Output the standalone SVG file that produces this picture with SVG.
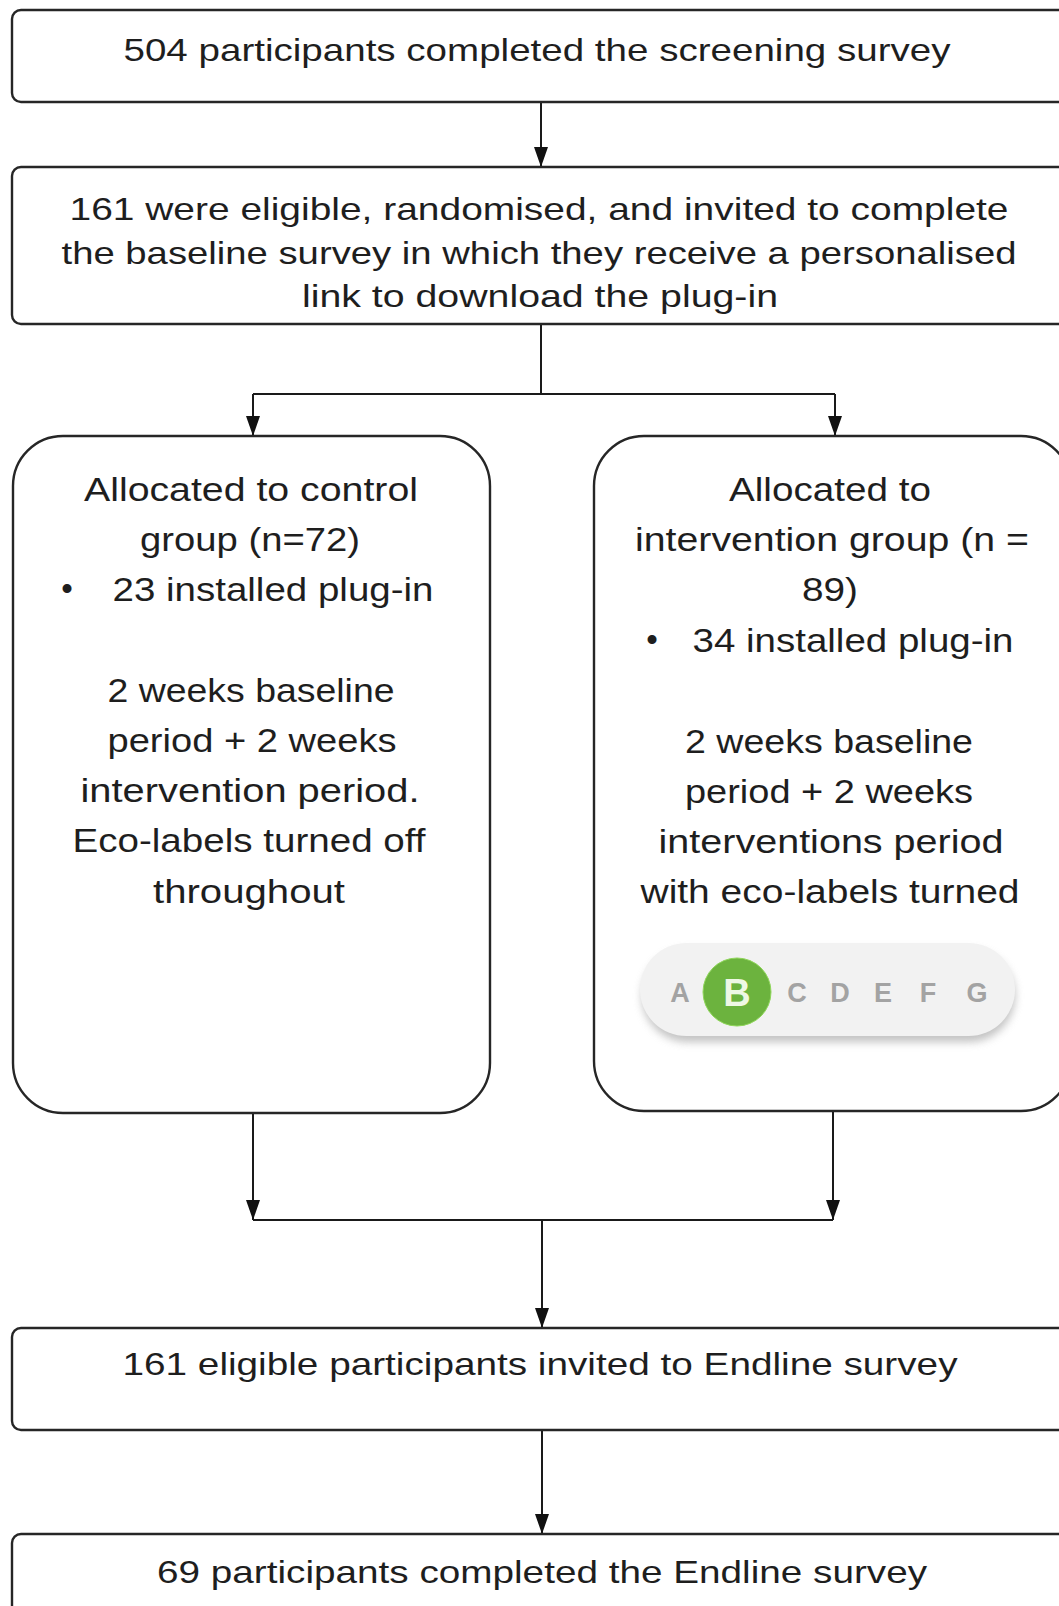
<svg xmlns="http://www.w3.org/2000/svg" width="1059" height="1606" viewBox="0 0 1059 1606">
<style>
.box{fill:#fff;stroke:#262626;stroke-width:2.4}
.con{fill:none;stroke:#1a1a1a;stroke-width:2}
.t{font-family:"Liberation Sans",Arial,sans-serif;font-size:32px;fill:#1e1e1e;text-anchor:middle}
.m{font-family:"Liberation Sans",Arial,sans-serif;font-size:33px;fill:#1e1e1e;text-anchor:middle}
.lt{font-family:"Liberation Sans",Arial,sans-serif;font-size:27px;font-weight:bold;fill:#a3a3a3;text-anchor:middle}
</style>
<defs>
<marker id="ah" viewBox="0 0 20 14" refX="20" refY="7" markerWidth="20" markerHeight="14" markerUnits="userSpaceOnUse" orient="auto">
<path d="M0,0 L20,7 L0,14 z" fill="#111"/>
</marker>
<filter id="sh" x="-20%" y="-40%" width="140%" height="200%">
<feGaussianBlur stdDeviation="4"/>
</filter>
</defs>

<g id="connectors">
<line class="con" x1="541" y1="103" x2="541" y2="167" marker-end="url(#ah)"/>
<line class="con" x1="541" y1="324" x2="541" y2="394"/>
<line class="con" x1="253" y1="394" x2="835" y2="394"/>
<line class="con" x1="253" y1="394" x2="253" y2="436" marker-end="url(#ah)"/>
<line class="con" x1="835" y1="394" x2="835" y2="436" marker-end="url(#ah)"/>
<line class="con" x1="253" y1="1114" x2="253" y2="1220" marker-end="url(#ah)"/>
<line class="con" x1="833" y1="1111" x2="833" y2="1220" marker-end="url(#ah)"/>
<line class="con" x1="253" y1="1220" x2="833" y2="1220"/>
<line class="con" x1="542" y1="1220" x2="542" y2="1328" marker-end="url(#ah)"/>
<line class="con" x1="542" y1="1430" x2="542" y2="1534" marker-end="url(#ah)"/>
</g>

<g id="screening">
<rect class="box" x="12" y="10" width="1055" height="92" rx="9"/>
<text class="t" x="537" y="61" textLength="827" lengthAdjust="spacingAndGlyphs">504 participants completed the screening survey</text>
</g>

<g id="baseline">
<rect class="box" x="12" y="167" width="1055" height="157" rx="9"/>
<text class="t" x="539" y="220" textLength="939" lengthAdjust="spacingAndGlyphs">161 were eligible, randomised, and invited to complete</text>
<text class="t" x="539" y="264" textLength="955" lengthAdjust="spacingAndGlyphs">the baseline survey in which they receive a personalised</text>
<text class="t" x="540" y="307" textLength="476" lengthAdjust="spacingAndGlyphs">link to download the plug-in</text>
</g>

<g id="control">
<rect class="box" x="13" y="436" width="477" height="677" rx="50"/>
<text class="m" x="251" y="501" textLength="334" lengthAdjust="spacingAndGlyphs">Allocated to control</text>
<text class="m" x="250" y="551" textLength="220" lengthAdjust="spacingAndGlyphs">group (n=72)</text>
<text class="m" x="67" y="600">•</text>
<text class="m" x="273" y="601" textLength="321" lengthAdjust="spacingAndGlyphs">23 installed plug-in</text>
<text class="m" x="251" y="702" textLength="287" lengthAdjust="spacingAndGlyphs">2 weeks baseline</text>
<text class="m" x="252" y="752" textLength="289" lengthAdjust="spacingAndGlyphs">period + 2 weeks</text>
<text class="m" x="250" y="802" textLength="339" lengthAdjust="spacingAndGlyphs">intervention period.</text>
<text class="m" x="249" y="852" textLength="353" lengthAdjust="spacingAndGlyphs">Eco-labels turned off</text>
<text class="m" x="249" y="903" textLength="192" lengthAdjust="spacingAndGlyphs">throughout</text>
</g>

<g id="intervention">
<rect class="box" x="594" y="436" width="477" height="675" rx="50"/>
<text class="m" x="830" y="501" textLength="202" lengthAdjust="spacingAndGlyphs">Allocated to</text>
<text class="m" x="832" y="551" textLength="394" lengthAdjust="spacingAndGlyphs">intervention group (n =</text>
<text class="m" x="830" y="601" textLength="56" lengthAdjust="spacingAndGlyphs">89)</text>
<text class="m" x="652" y="651">•</text>
<text class="m" x="853" y="652" textLength="321" lengthAdjust="spacingAndGlyphs">34 installed plug-in</text>
<text class="m" x="829" y="753" textLength="288" lengthAdjust="spacingAndGlyphs">2 weeks baseline</text>
<text class="m" x="829" y="803" textLength="288" lengthAdjust="spacingAndGlyphs">period + 2 weeks</text>
<text class="m" x="831" y="853" textLength="345" lengthAdjust="spacingAndGlyphs">interventions period</text>
<text class="m" x="830" y="903" textLength="379" lengthAdjust="spacingAndGlyphs">with eco-labels turned</text>
<g id="ecolabel">
<rect x="642" y="950" width="373" height="92" rx="46" fill="#9a9a9a" opacity="0.6" filter="url(#sh)"/>
<rect x="640" y="943" width="375" height="93" rx="46.5" fill="#f2f2f2"/>
<text class="lt" x="680" y="1002">A</text>
<circle cx="737" cy="992" r="34" fill="#6cb33e" stroke="#8fd65a" stroke-width="1"/>
<text class="lt" x="737" y="1006" style="font-size:38px;fill:#eef8e4">B</text>
<text class="lt" x="797" y="1002">C</text>
<text class="lt" x="840" y="1002">D</text>
<text class="lt" x="883" y="1002">E</text>
<text class="lt" x="928" y="1002">F</text>
<text class="lt" x="977" y="1002">G</text>
</g>
</g>

<g id="endline-invited">
<rect class="box" x="12" y="1328" width="1055" height="102" rx="9"/>
<text class="t" x="540" y="1375" textLength="835" lengthAdjust="spacingAndGlyphs">161 eligible participants invited to Endline survey</text>
</g>

<g id="endline-completed">
<rect class="box" x="12" y="1534" width="1055" height="102" rx="9"/>
<text class="t" x="542" y="1583" textLength="770" lengthAdjust="spacingAndGlyphs">69 participants completed the Endline survey</text>
</g>
</svg>
